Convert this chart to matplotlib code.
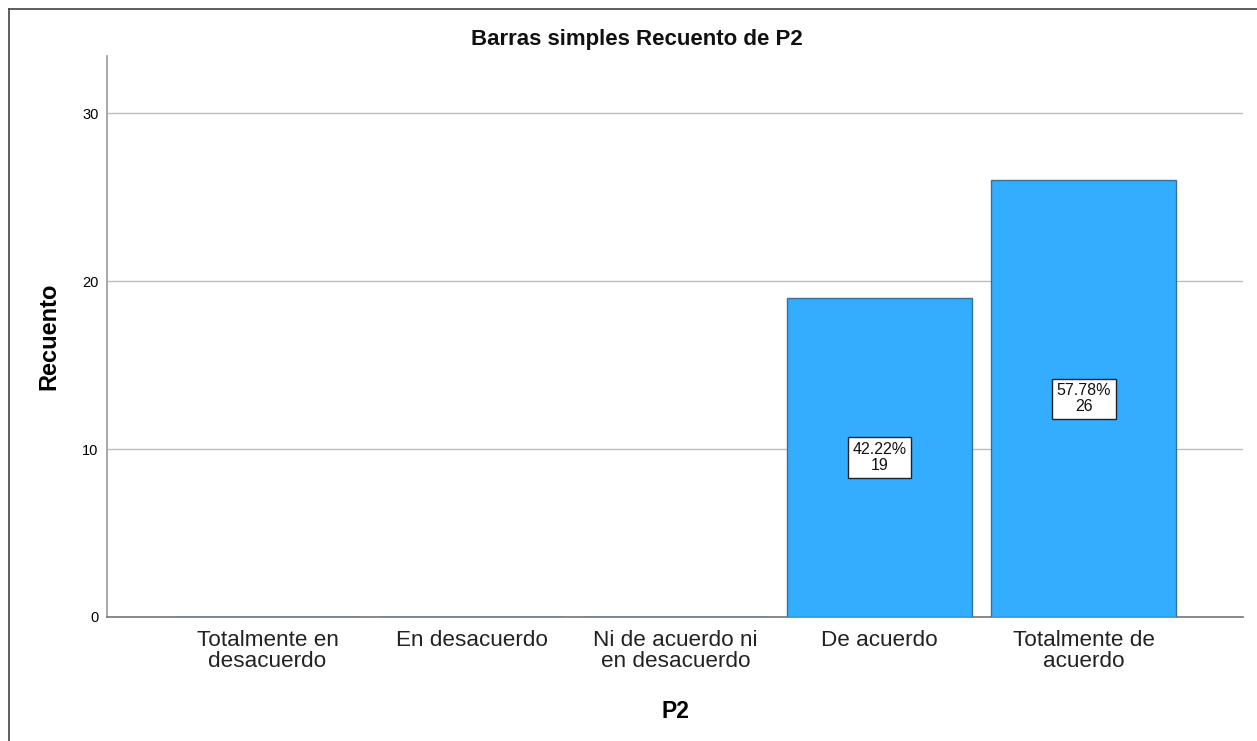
import matplotlib
matplotlib.use("Agg")
import matplotlib.pyplot as plt
from matplotlib.lines import Line2D

# ------------------------------
# Data
# ------------------------------
categorias = ["Totalmente en\ndesacuerdo", "En desacuerdo", "Ni de acuerdo ni\nen desacuerdo",
              "De acuerdo", "Totalmente de\nacuerdo"]
recuento = [0, 0, 0, 19, 26]
y_ticks = [0, 10, 20, 30]

total = sum(recuento)
plt.rcParams['font.family'] = ['Liberation Sans', 'DejaVu Sans']

# ------------------------------
# Figure
# ------------------------------
fig = plt.figure(figsize=(12.57, 7.41), dpi=100)
ax = fig.add_axes([107 / 1257, 1 - 617 / 741, (1243 - 107) / 1257, (617 - 56) / 741])

x = list(range(len(categorias)))
bars = ax.bar(x, recuento, width=0.905, color='#33adff', edgecolor='#3a6f96', linewidth=1, zorder=3)

# labels inside bars
for xi, v in zip(x, recuento):
    if v > 0:
        ax.text(xi, v / 2, f"{v / total * 100:.2f}%\n{v}", ha='center', va='center',
                fontsize=11.5, linespacing=1.1, zorder=5, color='#111111',
                bbox=dict(boxstyle='square,pad=0.28', facecolor='white', edgecolor='#222222', linewidth=1))

ax.set_xlim(-0.787, 4.78)
ax.set_ylim(0, 33.4)
ax.set_yticks(y_ticks)
ax.set_xticks(x)
ax.set_xticklabels(categorias, fontsize=16.2, linespacing=1.05, color='#222222')
ax.tick_params(axis='y', length=0, pad=6, labelsize=10.5)
ax.tick_params(axis='x', length=0, pad=9)
ax.yaxis.grid(True, color='#bdbdbd', linewidth=1, zorder=0)

for s in ['top', 'right']:
    ax.spines[s].set_visible(False)
ax.spines['left'].set_color('#999999')
ax.spines['bottom'].set_color('#777777')
ax.spines['left'].set_linewidth(1.2)
ax.spines['bottom'].set_linewidth(1.2)

fig.text(637 / 1257, 1 - 39 / 741, "Barras simples Recuento de P2", fontsize=16,
         fontweight='bold', ha='center', va='center', color='#111111')
ax.set_xlabel("P2", fontsize=16.5, fontweight='bold', labelpad=20)
ax.set_ylabel("Recuento", fontsize=17, fontweight='bold', labelpad=16)

# outer frame
fig.add_artist(Line2D([9 / 1257, 9 / 1257], [0, 1 - 9 / 741], color='#444444', linewidth=1.2))
fig.add_artist(Line2D([9 / 1257, 1], [1 - 9 / 741, 1 - 9 / 741], color='#444444', linewidth=1.2))

plt.savefig("out.png", dpi=100)
plt.close()
